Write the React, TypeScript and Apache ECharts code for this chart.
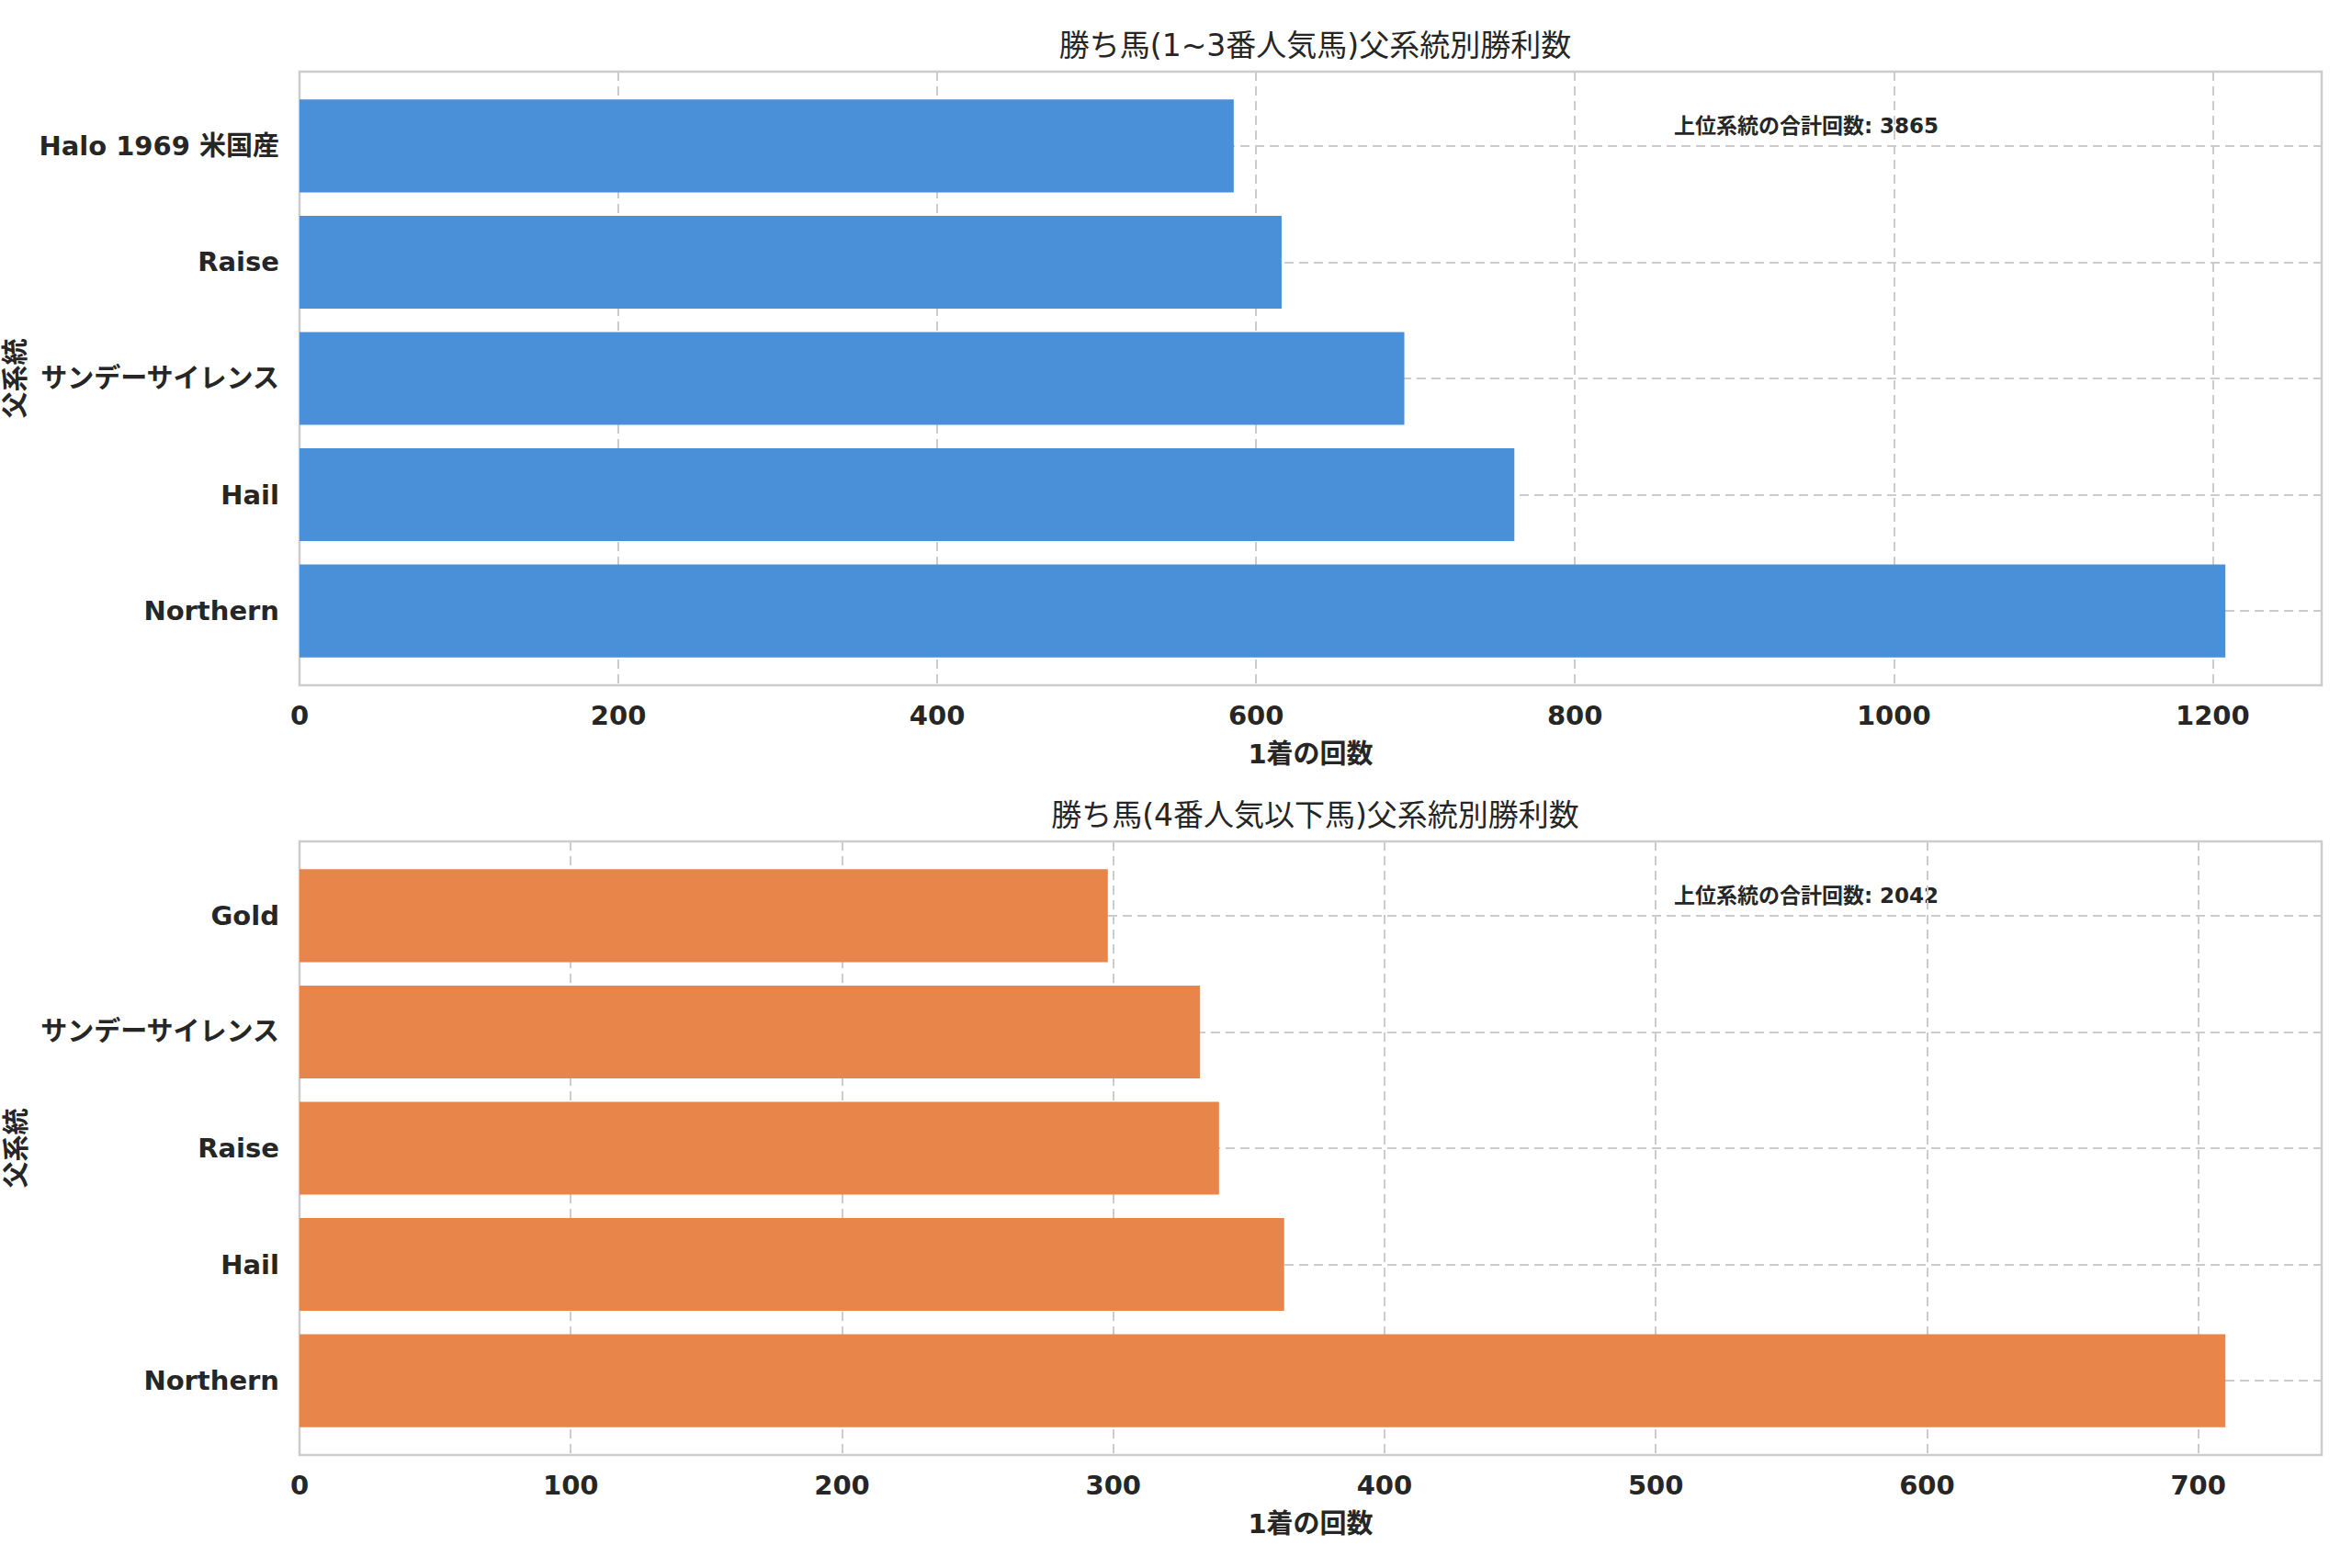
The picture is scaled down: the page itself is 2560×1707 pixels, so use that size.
import React, { useEffect, useRef } from "react";
import * as echarts from "echarts";

// ---- data (bottom-to-top order, as drawn on the category axis) ----
const categoriesTop = ["Northern", "Hail", "サンデーサイレンス", "Raise", "Halo 1969 米国産"];
const valuesTop = [1208, 762, 693, 616, 586];
const categoriesBottom = ["Northern", "Hail", "Raise", "サンデーサイレンス", "Gold"];
const valuesBottom = [710, 363, 339, 332, 298];

const titleTop = "勝ち馬(1~3番人気馬)父系統別勝利数";
const titleBottom = "勝ち馬(4番人気以下馬)父系統別勝利数";
const xAxisName = "1着の回数";
const yAxisName = "父系統";
const totalLabel = "上位系統の合計回数";
const tickIntervalTop = 200;
const tickIntervalBottom = 100;

const colorTop = "#4A90D9";
const colorBottom = "#E8854B";

const FONT = "'DejaVu Sans', 'Noto Sans CJK JP', sans-serif";
const TEXT = "#262626";
const GRIDC = "#cccccc";

export default function App() {
  const ref = useRef<HTMLDivElement>(null);

  useEffect(() => {
    if (!ref.current) return;
    const chart = echarts.init(ref.current, undefined, { renderer: "svg" });

    const left = 326;
    const right = 33;
    const H = 668;
    const panelTops = [78, 916];
    const unit = H / 5.28;

    const panels = [
      { cats: categoriesTop, vals: valuesTop, color: colorTop, interval: tickIntervalTop, title: titleTop },
      { cats: categoriesBottom, vals: valuesBottom, color: colorBottom, interval: tickIntervalBottom, title: titleBottom },
    ];

    const grids: any[] = [];
    const xAxes: any[] = [];
    const yAxes: any[] = [];
    const series: any[] = [];
    const titles: any[] = [];
    const graphics: any[] = [];

    panels.forEach((p, i) => {
      const T = panelTops[i];
      const xmax = Math.max(...p.vals) * 1.05;
      const total = p.vals.reduce((a, b) => a + b, 0);
      // frame grid
      grids.push({
        left, right, top: T, height: H, containLabel: false, outerBoundsMode: "none",
        show: true, borderColor: GRIDC, borderWidth: 2.5, backgroundColor: "transparent",
      });
      // data grid
      grids.push({
        left, right, top: T + 0.64 * unit, height: 4 * unit,
        containLabel: false, outerBoundsMode: "none",
      });

      xAxes.push({
        type: "value", gridIndex: i * 2, min: 0, max: xmax, interval: p.interval,
        axisLine: { show: false }, axisTick: { show: false },
        axisLabel: {
          showMaxLabel: false, margin: 18, fontFamily: FONT, fontSize: 29,
          fontWeight: "bold", color: TEXT,
          formatter: (v: number) => String(Math.round(v)),
        },
        splitLine: { show: true, lineStyle: { color: GRIDC, width: 2, type: [10, 6] } },
        name: xAxisName, nameLocation: "middle", nameGap: 60,
        nameTextStyle: { fontFamily: FONT, fontSize: 29, fontWeight: "bold", color: TEXT },
      });
      xAxes.push({
        type: "value", gridIndex: i * 2 + 1, min: 0, max: xmax, show: false,
        splitLine: { show: false },
      });
      yAxes.push({
        type: "value", gridIndex: i * 2, show: false, splitLine: { show: false },
      });
      yAxes.push({
        type: "category", gridIndex: i * 2 + 1, data: p.cats, boundaryGap: false,
        axisLine: { show: false }, axisTick: { show: false },
        axisLabel: {
          interval: 0, margin: 22, fontFamily: FONT, fontSize: 29,
          fontWeight: "bold", color: TEXT,
        },
        splitLine: { show: true, interval: 0, lineStyle: { color: GRIDC, width: 2, type: [10, 6] } },
        name: yAxisName, nameLocation: "middle", nameRotate: 90, nameGap: 268,
        nameTextStyle: { fontFamily: FONT, fontSize: 29, fontWeight: "bold", color: TEXT },
      });
      series.push({
        type: "bar", xAxisIndex: i * 2 + 1, yAxisIndex: i * 2 + 1, data: p.vals,
        barWidth: 0.8 * unit, clip: false,
        itemStyle: { color: p.color },
      });
      titles.push({
        text: p.title, left: left + (2560 - left - right) / 2, textAlign: "center",
        top: T - 50,
        textStyle: { fontFamily: FONT, fontSize: 33, fontWeight: "normal", color: TEXT },
      });
      graphics.push({
        type: "text", x: 1966, y: T + 59,
        style: {
          text: `${totalLabel}: ${total}`, fill: TEXT, font: `bold 23px ${FONT}`,
          textAlign: "center", textVerticalAlign: "middle",
        },
      });
    });

    chart.setOption({
      animation: false,
      backgroundColor: "#ffffff",
      title: titles,
      grid: grids,
      xAxis: xAxes,
      yAxis: yAxes,
      series,
      graphic: graphics,
    });

    return () => chart.dispose();
  }, []);

  return (
    <div
      ref={ref}
      style={{ position: "absolute", left: 0, top: 0, width: 2560, height: 1707 }}
    />
  );
}
